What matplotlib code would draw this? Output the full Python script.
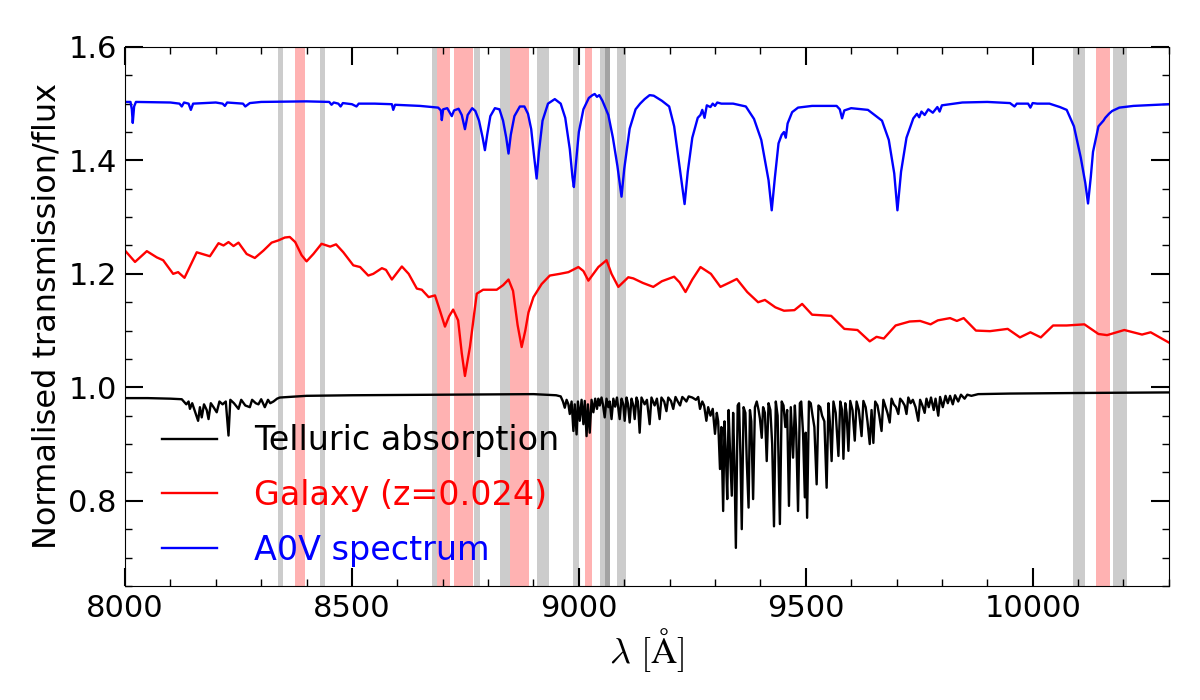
import matplotlib
matplotlib.use("Agg")
import matplotlib.pyplot as plt
from matplotlib.ticker import MultipleLocator

plt.rcParams['mathtext.fontset'] = 'cm'

# telluric transmission
tell_wl = [8000, 8050, 8100, 8125, 8135, 8140, 8143, 8148, 8155, 8161, 8165, 8169, 8174, 8180, 8184,
           8189, 8195, 8202, 8208, 8215, 8222, 8228, 8232, 8240, 8250, 8256, 8265, 8275, 8280, 8288,
           8294, 8300, 8308, 8315, 8320, 8327, 8335, 8341, 8400, 8500, 8700, 8900, 8950, 8960, 8965,
           8969, 8973, 8977, 8980, 8984, 8988, 8991, 8995, 8998, 9002, 9006, 9010, 9013, 9017, 9020,
           9024, 9028, 9032, 9036, 9040, 9043, 9046, 9050, 9053, 9057, 9061, 9065, 9068, 9072, 9076,
           9080, 9084, 9090, 9094, 9098, 9101, 9105, 9108, 9112, 9116, 9120, 9123, 9127, 9130, 9134,
           9138, 9145, 9150, 9156, 9160, 9167, 9172, 9178, 9182, 9188, 9193, 9197, 9203, 9208, 9213,
           9218, 9223, 9228, 9233, 9237, 9242, 9250, 9258, 9263, 9267, 9272, 9276, 9281, 9285, 9290,
           9295, 9300, 9304, 9307, 9311, 9314, 9318, 9321, 9324, 9327, 9330, 9333, 9337, 9340, 9343,
           9346, 9350, 9353, 9356, 9359, 9363, 9367, 9370, 9374, 9377, 9380, 9384, 9388, 9392, 9396,
           9399, 9403, 9406, 9410, 9414, 9418, 9422, 9426, 9430, 9434, 9438, 9443, 9447, 9451, 9455,
           9459, 9463, 9467, 9472, 9476, 9479, 9483, 9487, 9490, 9494, 9498, 9500, 9503, 9507, 9511,
           9515, 9519, 9524, 9528, 9532, 9536, 9541, 9546, 9550, 9553, 9557, 9561, 9566, 9572, 9576,
           9580, 9583, 9587, 9590, 9594, 9598, 9603, 9608, 9612, 9617, 9623, 9627, 9632, 9636, 9641,
           9645, 9649, 9653, 9658, 9662, 9667, 9671, 9676, 9680, 9685, 9689, 9694, 9699, 9704, 9708,
           9713, 9718, 9722, 9726, 9731, 9736, 9742, 9748, 9752, 9757, 9762, 9766, 9771, 9776, 9782,
           9786, 9792, 9796, 9802, 9808, 9813, 9818, 9824, 9829, 9836, 9842, 9850, 9856, 9865, 9880,
           9950, 10100, 10300]
tell_fl = [0.981, 0.981, 0.980, 0.979, 0.970, 0.975, 0.962, 0.972, 0.955, 0.941, 0.965, 0.947, 0.970, 0.960, 0.944,
           0.972, 0.965, 0.956, 0.975, 0.970, 0.975, 0.915, 0.978, 0.972, 0.962, 0.978, 0.968, 0.965, 0.978, 0.972,
           0.970, 0.979, 0.965, 0.978, 0.972, 0.975, 0.980, 0.982, 0.985, 0.986, 0.987, 0.988, 0.986, 0.984, 0.975,
           0.964, 0.978, 0.970, 0.953, 0.975, 0.923, 0.970, 0.917, 0.975, 0.941, 0.978, 0.935, 0.976, 0.914, 0.970,
           0.920, 0.978, 0.956, 0.980, 0.962, 0.980, 0.968, 0.982, 0.970, 0.947, 0.980, 0.965, 0.975, 0.944, 0.980,
           0.966, 0.982, 0.944, 0.980, 0.970, 0.941, 0.982, 0.972, 0.938, 0.980, 0.968, 0.944, 0.982, 0.975, 0.920,
           0.982, 0.970, 0.978, 0.935, 0.982, 0.968, 0.980, 0.944, 0.982, 0.975, 0.958, 0.982, 0.976, 0.962, 0.983,
           0.975, 0.968, 0.983, 0.979, 0.975, 0.984, 0.982, 0.978, 0.983, 0.962, 0.975, 0.968, 0.941, 0.965, 0.950,
           0.962, 0.918, 0.955, 0.940, 0.856, 0.930, 0.782, 0.940, 0.880, 0.803, 0.960, 0.890, 0.809, 0.955, 0.860,
           0.717, 0.968, 0.972, 0.880, 0.750, 0.965, 0.955, 0.870, 0.788, 0.960, 0.940, 0.803, 0.965, 0.975, 0.960,
           0.945, 0.911, 0.965, 0.955, 0.870, 0.972, 0.960, 0.900, 0.755, 0.975, 0.950, 0.759, 0.975, 0.968, 0.930,
           0.960, 0.791, 0.965, 0.876, 0.968, 0.920, 0.782, 0.972, 0.975, 0.920, 0.806, 0.920, 0.770, 0.975, 0.972,
           0.950, 0.930, 0.829, 0.968, 0.965, 0.950, 0.940, 0.823, 0.972, 0.940, 0.870, 0.975, 0.955, 0.879, 0.975,
           0.960, 0.874, 0.972, 0.955, 0.888, 0.976, 0.960, 0.906, 0.975, 0.960, 0.914, 0.976, 0.965, 0.940, 0.900,
           0.960, 0.902, 0.975, 0.968, 0.950, 0.923, 0.978, 0.965, 0.955, 0.938, 0.980, 0.970, 0.965, 0.953, 0.980,
           0.975, 0.968, 0.953, 0.982, 0.972, 0.978, 0.965, 0.941, 0.978, 0.968, 0.955, 0.980, 0.965, 0.982, 0.960,
           0.980, 0.950, 0.983, 0.965, 0.985, 0.972, 0.985, 0.970, 0.986, 0.975, 0.987, 0.980, 0.987, 0.985, 0.988,
           0.989, 0.990, 0.991]

# galaxy spectrum, shifted (z=0.024)
gal_wl = [8000, 8022, 8048, 8070, 8084, 8106, 8117, 8131, 8158, 8187, 8206, 8217, 8228, 8239, 8250,
          8268, 8286, 8305, 8323, 8338, 8352, 8363, 8375, 8389, 8400, 8415, 8433, 8452, 8465, 8481,
          8503, 8518, 8536, 8547, 8566, 8575, 8588, 8610, 8625, 8643, 8654, 8669, 8683, 8694, 8705,
          8714, 8723, 8734, 8742, 8749, 8760, 8775, 8789, 8819, 8833, 8845, 8855, 8865, 8874, 8882,
          8889, 8900, 8918, 8936, 8958, 8977, 8999, 9010, 9021, 9043, 9061, 9072, 9087, 9109, 9120,
          9141, 9164, 9183, 9210, 9222, 9235, 9250, 9268, 9291, 9312, 9333, 9348, 9371, 9395, 9410,
          9433, 9452, 9475, 9492, 9514, 9556, 9585, 9614, 9641, 9656, 9672, 9698, 9729, 9752, 9775,
          9791, 9818, 9833, 9848, 9875, 9906, 9945, 9972, 9995, 10018, 10045, 10075, 10114, 10145,
          10164, 10202, 10241, 10260, 10300]
gal_fl = [1.241, 1.221, 1.240, 1.229, 1.224, 1.200, 1.203, 1.193, 1.238, 1.231, 1.254, 1.250, 1.256, 1.249, 1.255,
          1.235, 1.228, 1.241, 1.255, 1.259, 1.264, 1.265, 1.256, 1.233, 1.222, 1.235, 1.253, 1.248, 1.252, 1.238,
          1.215, 1.212, 1.197, 1.200, 1.210, 1.207, 1.190, 1.213, 1.200, 1.174, 1.172, 1.159, 1.162, 1.135, 1.107,
          1.125, 1.137, 1.118, 1.060, 1.020, 1.071, 1.165, 1.172, 1.172, 1.180, 1.190, 1.170, 1.110, 1.071, 1.100,
          1.132, 1.159, 1.182, 1.197, 1.200, 1.203, 1.212, 1.205, 1.188, 1.212, 1.224, 1.200, 1.177, 1.194, 1.192,
          1.184, 1.177, 1.187, 1.195, 1.185, 1.168, 1.190, 1.212, 1.200, 1.177, 1.185, 1.191, 1.168, 1.150, 1.154,
          1.141, 1.135, 1.136, 1.147, 1.128, 1.126, 1.103, 1.101, 1.081, 1.089, 1.086, 1.109, 1.116, 1.117, 1.111,
          1.118, 1.122, 1.117, 1.122, 1.100, 1.099, 1.103, 1.088, 1.097, 1.088, 1.109, 1.109, 1.111, 1.094,
          1.092, 1.101, 1.093, 1.097, 1.079]

# A0V standard star
a0v_wl = [8000, 8012, 8015, 8017, 8020, 8024, 8100, 8120, 8125, 8130, 8140, 8145, 8150, 8200, 8215,
          8220, 8225, 8260, 8265, 8270, 8275, 8300, 8400, 8450, 8455, 8460, 8470, 8475, 8480, 8500,
          8510, 8515, 8550, 8588, 8591, 8595, 8650, 8690, 8696, 8698, 8701, 8710, 8715, 8720, 8725,
          8735, 8742, 8749, 8755, 8765, 8772, 8780, 8788, 8793, 8798, 8805, 8815, 8825, 8833, 8840,
          8845, 8850, 8858, 8870, 8880, 8888, 8895, 8901, 8907, 8912, 8920, 8932, 8947, 8960, 8970,
          8980, 8986, 8989, 8993, 9000, 9010, 9022, 9030, 9035, 9040, 9045, 9052, 9065, 9075, 9085,
          9094, 9100, 9112, 9125, 9135, 9145, 9156, 9165, 9183, 9199, 9210, 9222, 9233, 9240, 9250,
          9262, 9268, 9272, 9277, 9282, 9290, 9295, 9300, 9305, 9314, 9340, 9368, 9386, 9402, 9418,
          9425, 9432, 9440, 9447, 9452, 9456, 9460, 9470, 9483, 9514, 9568, 9575, 9580, 9585, 9600,
          9637, 9668, 9683, 9695, 9702, 9710, 9722, 9737, 9745, 9750, 9755, 9762, 9770, 9780, 9790,
          9795, 9800, 9845, 9900, 9950, 9960, 9965, 9990, 9995, 10000, 10010, 10037, 10060, 10075, 10091,
          10106, 10116, 10122, 10128, 10133, 10145, 10156, 10160, 10168, 10175, 10191, 10222, 10300]
a0v_fl = [1.503, 1.503, 1.490, 1.466, 1.495, 1.503, 1.502, 1.500, 1.495, 1.502, 1.500, 1.489, 1.500, 1.502, 1.500,
          1.496, 1.502, 1.500, 1.495, 1.498, 1.501, 1.503, 1.504, 1.503, 1.498, 1.502, 1.500, 1.495, 1.501, 1.499,
          1.495, 1.500, 1.500, 1.499, 1.489, 1.498, 1.496, 1.493, 1.488, 1.471, 1.490, 1.492, 1.485, 1.478, 1.488,
          1.491, 1.480, 1.455, 1.480, 1.492, 1.487, 1.470, 1.440, 1.418, 1.445, 1.478, 1.492, 1.490, 1.470, 1.440,
          1.412, 1.445, 1.478, 1.495, 1.495, 1.482, 1.455, 1.410, 1.368, 1.415, 1.470, 1.500, 1.508, 1.500, 1.475,
          1.420, 1.370, 1.353, 1.390, 1.450, 1.490, 1.510, 1.515, 1.517, 1.512, 1.515, 1.505, 1.480, 1.440, 1.390,
          1.336, 1.385, 1.456, 1.490, 1.500, 1.508, 1.515, 1.514, 1.505, 1.495, 1.460, 1.389, 1.323, 1.380, 1.440,
          1.475, 1.480, 1.489, 1.475, 1.497, 1.494, 1.500, 1.496, 1.502, 1.500, 1.500, 1.495, 1.473, 1.436, 1.365,
          1.312, 1.370, 1.430, 1.445, 1.450, 1.440, 1.465, 1.485, 1.493, 1.496, 1.496, 1.490, 1.474, 1.488, 1.492,
          1.489, 1.470, 1.436, 1.377, 1.312, 1.380, 1.440, 1.474, 1.482, 1.476, 1.486, 1.480, 1.490, 1.484, 1.494,
          1.486, 1.497, 1.502, 1.503, 1.501, 1.495, 1.500, 1.500, 1.493, 1.501, 1.500, 1.500, 1.494, 1.489, 1.460,
          1.405, 1.360, 1.324, 1.370, 1.415, 1.460, 1.470, 1.475, 1.482, 1.487, 1.493, 1.496, 1.499]

# masked regions
grey_bands = [(8336, 8347), (8430, 8441), (8676, 8688), (8769, 8782), (8826, 8848),
              (8907, 8934), (8987, 9000), (9046, 9068), (9058, 9069), (9084, 9104),
              (10089, 10115), (10178, 10208)]
red_bands = [(8375, 8397), (8688, 8716), (8725, 8766), (8848, 8890), (9013, 9028),
             (10140, 10170)]

fig = plt.figure(figsize=(12, 7), dpi=100)
ax = fig.add_axes([0.1042, 0.163, 0.8698, 0.770])

for lo, hi in grey_bands:
    ax.axvspan(lo, hi, color='k', alpha=0.2, lw=0)
for lo, hi in red_bands:
    ax.axvspan(lo, hi, color='r', alpha=0.3, lw=0)

ax.plot(tell_wl, tell_fl, 'k-', lw=1.7, label='Telluric absorption')
ax.plot(gal_wl, gal_fl, 'r-', lw=1.7, label='Galaxy (z=0.024)')
ax.plot(a0v_wl, a0v_fl, 'b-', lw=1.7, label='A0V spectrum')

ax.set_xlim(8000, 10300)
ax.set_ylim(0.65, 1.6)
ax.xaxis.set_major_locator(MultipleLocator(500))
ax.xaxis.set_minor_locator(MultipleLocator(100))
ax.yaxis.set_major_locator(MultipleLocator(0.2))
ax.yaxis.set_minor_locator(MultipleLocator(0.05))
ax.tick_params(which='both', direction='in', top=True, right=True, labelsize=22)
ax.tick_params(which='major', length=13, width=1.5, pad=6)
ax.tick_params(which='minor', length=5, width=1)

ax.set_xlabel(r'$\lambda\ [\mathrm{\AA}]$', fontsize=26, labelpad=2)
ax.set_ylabel('Normalised transmission/flux', fontsize=23)

leg = ax.legend(loc='lower left', frameon=False, fontsize=24, handlelength=1.65,
                handletextpad=1.1, labelspacing=0.65, bbox_to_anchor=(0.007, -0.02))
for txt, line in zip(leg.get_texts(), leg.get_lines()):
    txt.set_color(line.get_color())

fig.savefig('out.png', dpi=100)
